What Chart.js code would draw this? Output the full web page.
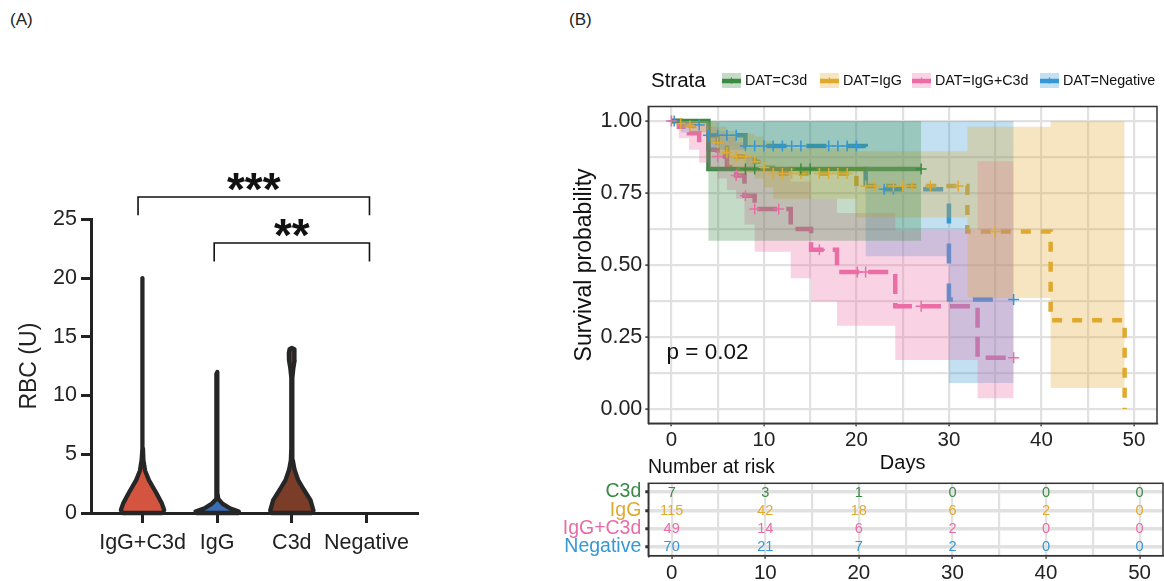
<!DOCTYPE html>
<html><head><meta charset="utf-8">
<script src="https://cdn.jsdelivr.net/npm/chart.js@4.4.1/dist/chart.umd.min.js"></script>
<style>
html,body{margin:0;padding:0;background:#fff;width:1164px;height:581px;overflow:hidden;font-family:"Liberation Sans",Arial,sans-serif;}
canvas{position:absolute;}
.lbl{position:absolute;font-size:17px;color:#222;line-height:20px;}
</style></head><body>
<div class="lbl" style="left:10px;top:10px">(A)</div>
<div class="lbl" style="left:569px;top:10px">(B)</div>
<canvas id="cA" width="560" height="581" style="left:0;top:0"></canvas>
<canvas id="cB" width="1164" height="480" style="left:0;top:0"></canvas>
<canvas id="cT" width="1164" height="126" style="left:0;top:455px"></canvas>
<script>
// ---------------- Panel A data ----------------
const violinCategories = ['IgG+C3d', 'IgG', 'C3d', 'Negative'];
const violinFills = ['#d3553f', '#3b6db3', '#7b3d28', null];
// violin outline: RBC levels and half-widths (category units)
const vIgGC3dY = [0, 0.25, 0.8, 1.7, 2.8, 3.6, 4.5, 5.5, 19.85, 20];
const vIgGC3dW = [0.27, 0.29, 0.26, 0.185, 0.085, 0.035, 0.012, 0.006, 0.006, 0];
const vIgGY = [0, 0.12, 0.4, 0.8, 1.2, 1.6, 11.85, 12];
const vIgGW = [0.28, 0.29, 0.17, 0.07, 0.015, 0.006, 0.006, 0];
const vC3dY = [0, 0.2, 1.1, 2.0, 2.8, 3.7, 4.5, 5.5, 11.5, 12.3, 13.0, 13.6, 13.95, 14.05];
const vC3dW = [0.27, 0.29, 0.25, 0.16, 0.085, 0.036, 0.013, 0.007, 0.007, 0.02, 0.038, 0.04, 0.03, 0];
const rbcTicks = [0, 5, 10, 15, 20, 25];
// significance brackets
const sig1Ends = [0.94, 4.04]; const sig1Top = 26.9; const sig1Tip = 25.35; const sig1Label = '***';
const sig2Ends = [1.96, 4.04]; const sig2Top = 22.98; const sig2Tip = 21.4; const sig2Label = '**';

// ---------------- Panel B data ----------------
const kmGroups = ['C3d', 'IgG', 'IgG+C3d', 'Negative'];
const kmColors = ['#3a8a44', '#e0aa2f', '#ea6da5', '#3597d3'];
const kmBands = ['rgba(58,138,68,0.3)', 'rgba(224,170,47,0.3)', 'rgba(234,109,165,0.3)', 'rgba(53,151,211,0.3)'];
const kmDash = [[], [10, 10], [20, 9], [20, 20]];

const c3dTime = [0, 4, 27];
const c3dSurv = [1, 0.833, 0.833];
const c3dUpper = [1, 1, 1];
const c3dLower = [1, 0.584, 0.584];
const c3dCensor = [8, 9, 14, 15, 27];

const iggTime = [0, 1, 2, 4, 5, 6, 7, 9, 10, 11, 20, 32, 41, 49];
const iggSurv = [1, 0.991, 0.982, 0.96, 0.924, 0.89, 0.876, 0.858, 0.838, 0.817, 0.774, 0.616, 0.308, 0];
const iggUpper = [1, 1, 1, 0.995, 0.98, 0.965, 0.955, 0.945, 0.93, 0.905, 0.895, 0.98, 1, 1];
const iggLower = [1, 0.975, 0.96, 0.925, 0.88, 0.84, 0.82, 0.80, 0.77, 0.73, 0.665, 0.385, 0.073, 0.073];
const iggCensor = [1, 2, 5, 6, 7, 8, 9, 10, 11, 12, 13, 14, 16, 17, 18, 19, 21, 22, 24, 25, 26, 28, 31, 35];

const igc3Time = [0, 0.8, 1.9, 3, 4, 5, 6, 7, 7.9, 9, 12.9, 15.1, 17.9, 24.2, 33.1, 37];
const igc3Surv = [1, 0.98, 0.957, 0.922, 0.9, 0.876, 0.84, 0.81, 0.74, 0.694, 0.625, 0.553, 0.475, 0.356, 0.178, 0.178];
const igc3Upper = [1, 1, 1, 0.99, 0.98, 0.965, 0.945, 0.925, 0.875, 0.84, 0.79, 0.73, 0.68, 0.62, 0.86, 0.86];
const igc3Lower = [1, 0.94, 0.9, 0.855, 0.83, 0.8, 0.76, 0.73, 0.64, 0.546, 0.454, 0.373, 0.289, 0.17, 0.037, 0.037];
const igc3Censor = [0, 5, 7, 8, 9, 11.6, 16, 20.1, 21, 27, 37];

const negTime = [0, 1, 4, 8, 21, 30, 37];
const negSurv = [1, 0.986, 0.95, 0.913, 0.763, 0.38, 0.38];
const negUpper = [1, 1, 1, 1, 1, 1, 1];
const negLower = [1, 0.96, 0.9, 0.84, 0.53, 0.09, 0.09];
const negCensor = [0.3, 3, 4, 5, 6, 7, 8, 9, 10, 11, 12, 13, 14, 17, 18, 19, 20, 23, 24, 37];

const kmDayTicks = [0, 5, 10, 15, 20, 25, 30, 35, 40, 45, 50];
const kmSurvTicks = [0, 0.125, 0.25, 0.375, 0.5, 0.625, 0.75, 0.875, 1];
const pValueText = 'p = 0.02';

// risk table
const riskTimes = [0, 10, 20, 30, 40, 50];
const riskC3d = [7, 3, 1, 0, 0, 0];
const riskIgG = [115, 42, 18, 6, 2, 0];
const riskIgGC3d = [49, 14, 6, 2, 0, 0];
const riskNeg = [70, 21, 7, 2, 0, 0];

// ---------------- helpers / plugins ----------------
const FONT = "'Liberation Sans', Arial, Helvetica, sans-serif";
Chart.defaults.font.family = FONT;
Chart.defaults.color = '#222';

const textMarksPlugin = {
  id: 'textMarks',
  afterDatasetsDraw(chart, args, opts) {
    if (!opts || !opts.items) return;
    const ctx = chart.ctx; ctx.save();
    for (const it of opts.items) {
      let px = it.x, py = it.y;
      if (it.data) { px = chart.scales.x.getPixelForValue(it.x); py = chart.scales.y.getPixelForValue(it.y); }
      ctx.font = it.font; ctx.fillStyle = it.color || '#111';
      ctx.textAlign = it.align || 'center'; ctx.textBaseline = it.baseline || 'middle';
      ctx.fillText(it.text, px, py);
    }
    ctx.restore();
  }
};
const framePlugin = {
  id: 'frame',
  afterDraw(chart, args, opts) {
    if (!opts || !opts.color) return;
    const a = chart.chartArea, ctx = chart.ctx;
    ctx.save(); ctx.strokeStyle = opts.color; ctx.lineWidth = opts.width;
    ctx.strokeRect(a.left, a.top, a.right - a.left, a.bottom - a.top);
    ctx.restore();
  }
};

function violinPoints(center, ys, ws) {
  const right = ys.map((y, i) => ({x: center + ws[i], y}));
  const left = ys.map((y, i) => ({x: center - ws[i], y})).reverse();
  const pts = right.concat(left); pts.push(pts[0]);
  return pts;
}
function stepAt(t, times, surv) {
  let v = surv[0];
  for (let i = 0; i < times.length; i++) if (times[i] <= t) v = surv[i];
  return v;
}
function bracket(ends, top, tip) {
  return [{x: ends[0], y: tip}, {x: ends[0], y: top}, {x: ends[1], y: top}, {x: ends[1], y: tip}];
}

// ---------------- Panel A chart ----------------
const violinShapes = [
  violinPoints(1, vIgGC3dY, vIgGC3dW),
  violinPoints(2, vIgGY, vIgGW),
  violinPoints(3, vC3dY, vC3dW)
];
const aSets = violinShapes.map((pts, i) => ({
  type: 'line', data: pts, showLine: true, fill: 'shape', backgroundColor: violinFills[i],
  borderColor: '#262626', borderWidth: 4.3, borderJoinStyle: 'round', pointRadius: 0, tension: 0, clip: false
}));
aSets.push({type: 'line', data: bracket(sig1Ends, sig1Top, sig1Tip), borderColor: '#111', borderWidth: 1.6, pointRadius: 0, fill: false, clip: false});
aSets.push({type: 'line', data: bracket(sig2Ends, sig2Top, sig2Tip), borderColor: '#111', borderWidth: 1.6, pointRadius: 0, fill: false, clip: false});

new Chart(document.getElementById('cA'), {
  type: 'scatter',
  data: {datasets: aSets},
  options: {
    responsive: false, animation: false, events: [],
    layout: {padding: {left: 0, top: 219.3, right: 142, bottom: 0}},
    scales: {
      x: {
        type: 'linear', min: 0.31, max: 4.69,
        afterBuildTicks: a => { a.ticks = violinCategories.map((c, i) => ({value: i + 1})); },
        afterFit: a => { a.height = 68; },
        ticks: {autoSkip: false, maxRotation: 0, padding: 7, font: {size: 21.5}, color: '#222',
          callback: v => violinCategories[Math.round(v) - 1]},
        grid: {display: true, drawOnChartArea: false, drawTicks: true, tickLength: 10, tickColor: '#222', tickWidth: 3},
        border: {display: true, color: '#222', width: 3}
      },
      y: {
        type: 'linear', min: 0, max: 25,
        afterBuildTicks: a => { a.ticks = rbcTicks.map(v => ({value: v})); },
        afterFit: a => { a.width = 91; },
        ticks: {autoSkip: false, padding: 4, font: {size: 21.5}, color: '#222'},
        grid: {display: true, drawOnChartArea: false, drawTicks: true, tickLength: 10, tickColor: '#222', tickWidth: 3},
        border: {display: true, color: '#222', width: 3},
        title: {display: true, text: 'RBC (U)', font: {size: 23}, color: '#222', padding: {top: 16.2, bottom: 0}}
      }
    },
    plugins: {
      legend: {display: false}, tooltip: {enabled: false},
      textMarks: {items: [
        {text: sig1Label, x: (sig1Ends[0] + sig1Ends[1]) / 2, y: 26.25, data: true, font: 'bold 46px ' + FONT, baseline: 'alphabetic', color: '#111'},
        {text: sig2Label, x: (sig2Ends[0] + sig2Ends[1]) / 2, y: 22.3, data: true, font: 'bold 46px ' + FONT, baseline: 'alphabetic', color: '#111'}
      ]}
    }
  },
  plugins: [textMarksPlugin]
});

// ---------------- Panel B chart ----------------
const kmData = [
  {time: c3dTime, surv: c3dSurv, up: c3dUpper, lo: c3dLower, cens: c3dCensor},
  {time: iggTime, surv: iggSurv, up: iggUpper, lo: iggLower, cens: iggCensor},
  {time: igc3Time, surv: igc3Surv, up: igc3Upper, lo: igc3Lower, cens: igc3Censor},
  {time: negTime, surv: negSurv, up: negUpper, lo: negLower, cens: negCensor}
];
const kmSets = [];
kmData.forEach((g, i) => {
  kmSets.push({label: kmGroups[i] + ' curve', data: g.time.map((t, k) => ({x: t, y: g.surv[k]})), stepped: 'before',
    borderColor: kmColors[i], borderWidth: 4.5, borderDash: kmDash[i], borderCapStyle: 'butt', pointRadius: 0, fill: false, order: 3, clip: 4});
});
kmData.forEach((g, i) => {
  kmSets.push({label: kmGroups[i] + ' upper', data: g.time.map((t, k) => ({x: t, y: g.up[k]})), stepped: 'before',
    borderWidth: 0, borderColor: 'rgba(0,0,0,0)', pointRadius: 0, fill: '+1', backgroundColor: kmBands[i], order: 2});
  kmSets.push({label: kmGroups[i] + ' lower', data: g.time.map((t, k) => ({x: t, y: g.lo[k]})), stepped: 'before',
    borderWidth: 0, borderColor: 'rgba(0,0,0,0)', pointRadius: 0, fill: false, order: 2});
});
kmData.forEach((g, i) => {
  kmSets.push({label: kmGroups[i] + ' censor', data: g.cens.map(t => ({x: t, y: stepAt(t, g.time, g.surv)})), showLine: false,
    pointStyle: 'cross', pointRadius: 5.5, pointBorderWidth: 1.5, borderColor: kmColors[i], backgroundColor: kmColors[i], order: 1, clip: false});
});

const kmLegendPlugin = {
  id: 'kmLegend',
  afterDraw(chart, args, opts) {
    const ctx = chart.ctx; ctx.save();
    ctx.textBaseline = 'middle'; ctx.textAlign = 'left'; ctx.fillStyle = '#111';
    ctx.font = '20.5px ' + FONT; ctx.fillText(opts.title, opts.titleX, opts.y + 1);
    kmGroups.forEach((g, i) => {
      const x = opts.keyX[i], y = opts.y;
      ctx.strokeStyle = kmColors[i]; ctx.lineWidth = 4.5;
      ctx.beginPath(); ctx.moveTo(x, y + 0.5); ctx.lineTo(x + 19, y + 0.5); ctx.stroke();
      ctx.fillStyle = kmBands[i]; ctx.fillRect(x, y - 7.5, 19, 15);
      ctx.lineWidth = 1.2; ctx.beginPath();
      ctx.moveTo(x + 6.5, y); ctx.lineTo(x + 12.5, y); ctx.moveTo(x + 9.5, y - 3); ctx.lineTo(x + 9.5, y + 3); ctx.stroke();
      ctx.fillStyle = '#111'; ctx.font = '14.3px ' + FONT;
      ctx.fillText('DAT=' + g, x + 23, y + 0.5);
    });
    ctx.restore();
  }
};

const isQuarter = v => Math.abs(v * 4 - Math.round(v * 4)) < 1e-9;
new Chart(document.getElementById('cB'), {
  type: 'line',
  data: {datasets: kmSets},
  options: {
    responsive: false, animation: false, events: [],
    layout: {padding: {left: 560, top: 106.5, right: 1, bottom: 0}},
    scales: {
      x: {
        type: 'linear', min: -2.5, max: 52.5,
        afterBuildTicks: a => { a.ticks = kmDayTicks.map(v => ({value: v})); },
        afterFit: a => { a.height = 56.7; },
        ticks: {autoSkip: false, maxRotation: 0, padding: 2, font: {size: 20.5}, color: '#222',
          callback: v => (v % 10 === 0 ? String(v) : '')},
        grid: {color: '#e1e1e1', lineWidth: 2.2, tickLength: 3, tickWidth: 1.5,
          tickColor: c => (c.tick && c.tick.value % 10 === 0 ? '#333' : 'rgba(0,0,0,0)')},
        border: {display: true, color: '#333', width: 1.5},
        title: {display: true, text: 'Days', font: {size: 20}, color: '#111', padding: {top: 0, bottom: 5}}
      },
      y: {
        type: 'linear', min: -0.05, max: 1.05,
        afterBuildTicks: a => { a.ticks = kmSurvTicks.map(v => ({value: v})); },
        afterFit: a => { a.width = 88.3; },
        ticks: {autoSkip: false, padding: 3, font: {size: 21.5}, color: '#222',
          callback: v => (isQuarter(v) ? v.toFixed(2) : '')},
        grid: {color: '#e1e1e1', lineWidth: 2.2, tickLength: 3, tickWidth: 1.5,
          tickColor: c => (c.tick && isQuarter(c.tick.value) ? '#333' : 'rgba(0,0,0,0)')},
        border: {display: true, color: '#333', width: 1.5},
        title: {display: true, text: 'Survival probability', font: {size: 23}, color: '#111', padding: {top: 11.2, bottom: 0}}
      }
    },
    plugins: {
      legend: {display: false}, tooltip: {enabled: false},
      frame: {color: '#333', width: 1.5},
      kmLegend: {title: 'Strata', titleX: 651, y: 80.5, keyX: [722, 820, 912, 1040]},
      textMarks: {items: [{text: pValueText, x: -0.53, y: 0.196, data: true, font: '22.5px ' + FONT, align: 'left', baseline: 'middle', color: '#111'}]}
    }
  },
  plugins: [framePlugin, kmLegendPlugin, textMarksPlugin]
});

// ---------------- Risk table ----------------
const riskRows = [riskC3d, riskIgG, riskIgGC3d, riskNeg];
const riskPlugin = {
  id: 'riskText',
  afterDatasetsDraw(chart, args, opts) {
    const ctx = chart.ctx, xs = chart.scales.x, ys = chart.scales.y;
    ctx.save(); ctx.textAlign = 'center'; ctx.textBaseline = 'middle'; ctx.font = '14.6px ' + FONT;
    riskRows.forEach((row, r) => {
      ctx.fillStyle = kmColors[r];
      row.forEach((n, j) => ctx.fillText(String(n), xs.getPixelForValue(riskTimes[j]), ys.getPixelForValue(r + 1) + 0.5));
    });
    ctx.textAlign = 'left'; ctx.fillStyle = '#111'; ctx.font = '19.5px ' + FONT;
    ctx.fillText(opts.title, opts.titleX, opts.titleY);
    ctx.restore();
  }
};
new Chart(document.getElementById('cT'), {
  type: 'scatter',
  data: {datasets: [{data: [], pointRadius: 0}]},
  options: {
    responsive: false, animation: false, events: [],
    layout: {padding: {left: 560, top: 28.3, right: 1, bottom: 0}},
    scales: {
      x: {
        type: 'linear', min: -2.5, max: 52.5,
        afterBuildTicks: a => { a.ticks = kmDayTicks.map(v => ({value: v})); },
        afterFit: a => { a.height = 25.3; },
        ticks: {autoSkip: false, maxRotation: 0, padding: 2, font: {size: 20.5}, color: '#222',
          callback: v => (v % 10 === 0 ? String(v) : '')},
        grid: {color: '#e1e1e1', lineWidth: 2.2, tickLength: 3, tickWidth: 1.5,
          tickColor: c => (c.tick && c.tick.value % 10 === 0 ? '#333' : 'rgba(0,0,0,0)')},
        border: {display: true, color: '#333', width: 1.5}
      },
      y: {
        type: 'linear', min: 0.52, max: 4.48, reverse: true,
        afterBuildTicks: a => { a.ticks = kmGroups.map((g, i) => ({value: i + 1})); },
        afterFit: a => { a.width = 88.3; },
        ticks: {autoSkip: false, padding: 4, font: {size: 19.5},
          color: c => kmColors[c.index], callback: v => kmGroups[Math.round(v) - 1]},
        grid: {color: '#e1e1e1', lineWidth: 3.5, tickLength: 3, tickWidth: 3, tickColor: '#333'},
        border: {display: true, color: '#333', width: 1.5}
      }
    },
    plugins: {
      legend: {display: false}, tooltip: {enabled: false},
      frame: {color: '#333', width: 1.5},
      riskText: {title: 'Number at risk', titleX: 648, titleY: 12.7}
    }
  },
  plugins: [framePlugin, riskPlugin]
});
</script>
</body></html>
